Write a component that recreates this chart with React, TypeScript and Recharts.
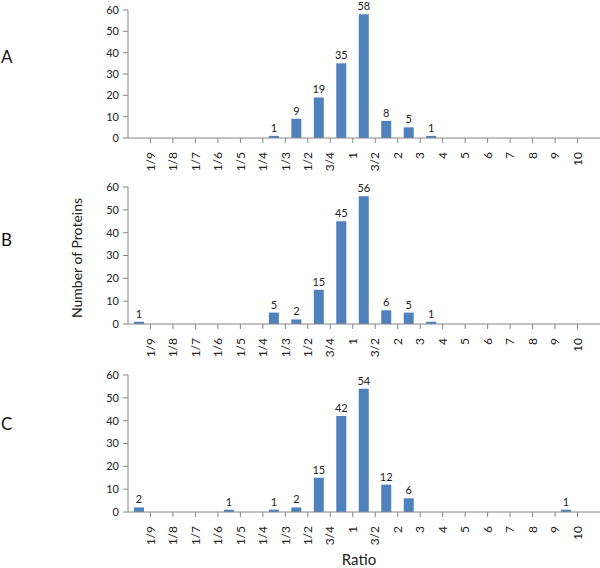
import React from "react";
import { BarChart, Bar, XAxis, YAxis, LabelList } from "recharts";

// bin edges shown on the x axis (labels sit on the boundaries between bins)
const edgeLabels = ["1/9", "1/8", "1/7", "1/6", "1/5", "1/4", "1/3", "1/2", "3/4", "1", "3/2", "2", "3", "4", "5", "6", "7", "8", "9", "10"];

// counts per bin: bin 0 is below 1/9, bin 20 is above 10
const countsA = [0, 0, 0, 0, 0, 0, 1, 9, 19, 35, 58, 8, 5, 1, 0, 0, 0, 0, 0, 0, 0];
const countsB = [1, 0, 0, 0, 0, 0, 5, 2, 15, 45, 56, 6, 5, 1, 0, 0, 0, 0, 0, 0, 0];
const countsC = [2, 0, 0, 0, 1, 0, 1, 2, 15, 42, 54, 12, 6, 0, 0, 0, 0, 0, 0, 1, 0];

const yTicks = [0, 10, 20, 30, 40, 50, 60];

const FONT = "Lato, 'Open Sans', sans-serif";
const AXIS = "#868686";
const BAR = "#4F81BD";

const toRows = (counts: number[]) => counts.map((v, i) => ({ bin: i + 0.5, count: v }));
const edgeTicks = edgeLabels.map((_, i) => i + 1);

const EdgeTick = (props: any) => {
  const { x, y, payload } = props;
  return (
    <g transform={`translate(${x},${y})`}>
      <text
        x={-7}
        y={0}
        dy="0.35em"
        textAnchor="end"
        transform="rotate(-90)"
        fill="#222"
        fontSize={12}
        fontFamily={FONT}
      >
        {edgeLabels[payload.value - 1]}
      </text>
    </g>
  );
};

interface PanelProps {
  counts: number[];
  top: number;
  plotTop: number;
  plotHeight: number;
}

const Panel: React.FC<PanelProps> = ({ counts, top, plotTop, plotHeight }) => {
  const xAxisHeight = 44;
  return (
    <div style={{ position: "absolute", left: 0, top }}>
      <BarChart
        width={600}
        height={plotTop + plotHeight + xAxisHeight}
        data={toRows(counts)}
        margin={{ top: plotTop, right: 0, bottom: 0, left: 0 }}
      >
        <XAxis
          type="number"
          dataKey="bin"
          domain={[0, 21]}
          ticks={edgeTicks}
          interval={0}
          height={xAxisHeight}
          stroke={AXIS}
          tickSize={5}
          tick={<EdgeTick />}
        />
        <YAxis
          type="number"
          domain={[0, 60]}
          ticks={yTicks}
          width={128}
          stroke={AXIS}
          tickSize={5}
          tickMargin={4}
          tick={{ fill: "#222", fontSize: 11, fontFamily: FONT }}
        />
        <Bar dataKey="count" fill={BAR} barSize={10} isAnimationActive={false}>
          <LabelList
            dataKey="count"
            position="top"
            offset={4}
            fill="#222"
            fontSize={11}
            fontFamily={FONT}
            formatter={(v: any) => (v === 0 ? "" : v)}
          />
        </Bar>
      </BarChart>
    </div>
  );
};

const App: React.FC = () => {
  const letter = (t: string, y: number) => (
    <div style={{ position: "absolute", left: 1, top: y, fontSize: 17, fontFamily: FONT, color: "#111" }}>{t}</div>
  );
  return (
    <div
      style={{
        position: "absolute",
        left: 0,
        top: 0,
        width: 600,
        height: 568,
        background: "#fff",
        overflow: "hidden",
        fontFamily: FONT,
      }}
    >
      <Panel counts={countsA} top={0} plotTop={10} plotHeight={128} />
      <Panel counts={countsB} top={180} plotTop={7} plotHeight={137} />
      <Panel counts={countsC} top={368} plotTop={7} plotHeight={137} />
      {letter("A", 46)}
      {letter("B", 229)}
      {letter("C", 413)}
      <div
        style={{
          position: "absolute",
          left: 76,
          top: 258,
          transform: "translate(-50%, -50%) rotate(-90deg)",
          whiteSpace: "nowrap",
          fontSize: 14,
          color: "#222",
        }}
      >
        Number of Proteins
      </div>
      <div
        style={{
          position: "absolute",
          left: 359,
          top: 559,
          transform: "translate(-50%, -50%)",
          fontSize: 15,
          lineHeight: "16px",
          color: "#222",
        }}
      >
        Ratio
      </div>
    </div>
  );
};

export default App;
